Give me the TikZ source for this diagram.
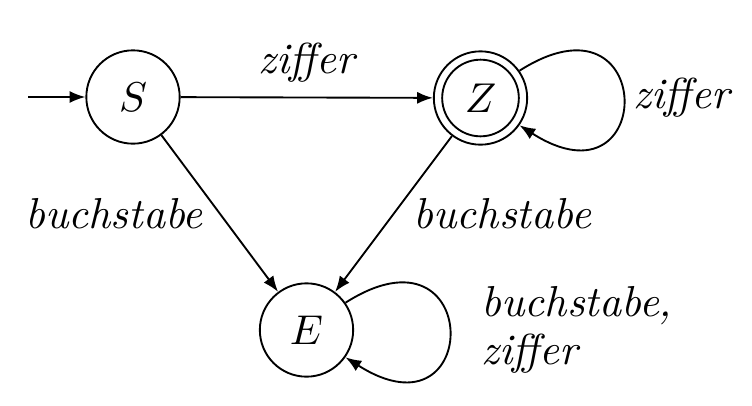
\documentclass[tikz,border=0pt]{standalone}
\usetikzlibrary{arrows.meta}
\begin{document}
\begin{tikzpicture}[x=0.24pt,y=-0.24pt,
  every node/.style={font=\fontsize{10.4}{11.6}\selectfont},
  state/.style={circle,draw,line width=0.45pt,minimum size=22.4pt,inner sep=0pt},
  trans/.style={draw,line width=0.45pt,-{Latex[length=3.8pt,width=2.9pt]}},
  lbl/.style={font=\fontsize{10.4}{11.6}\selectfont\itshape}]
\useasboundingbox (0,0) rectangle (752,405);
\node[state] (S) at (133,97) {$S$};
\node[state] (Z) at (480.5,98) {$Z$};
\draw[line width=0.45pt] (Z.center) circle[radius=9.2pt];
\node[state] (E) at (306.5,330) {$E$};
\coordinate (init) at (28,97);
\draw[trans] (init) -- (S);
\draw[trans] (S) -- node[lbl,above] {ziffer} (Z);
\draw[trans] (S) -- node[lbl,left,pos=0.5,xshift=-0.5pt] {buchstabe} (E);
\draw[trans] (Z) -- node[lbl,right,pos=0.5,xshift=1.3pt] {buchstabe} (E);
\draw[trans] (Z.35) .. controls +(138,-88) and +(138,88) .. node[lbl,right,xshift=-1pt] {ziffer} (Z.-35);
\draw[trans] (E.35) .. controls +(138,-88) and +(138,88) .. node[lbl,right,align=left,xshift=4.3pt] {buchstabe,\\ziffer} (E.-35);
\end{tikzpicture}
\end{document}
